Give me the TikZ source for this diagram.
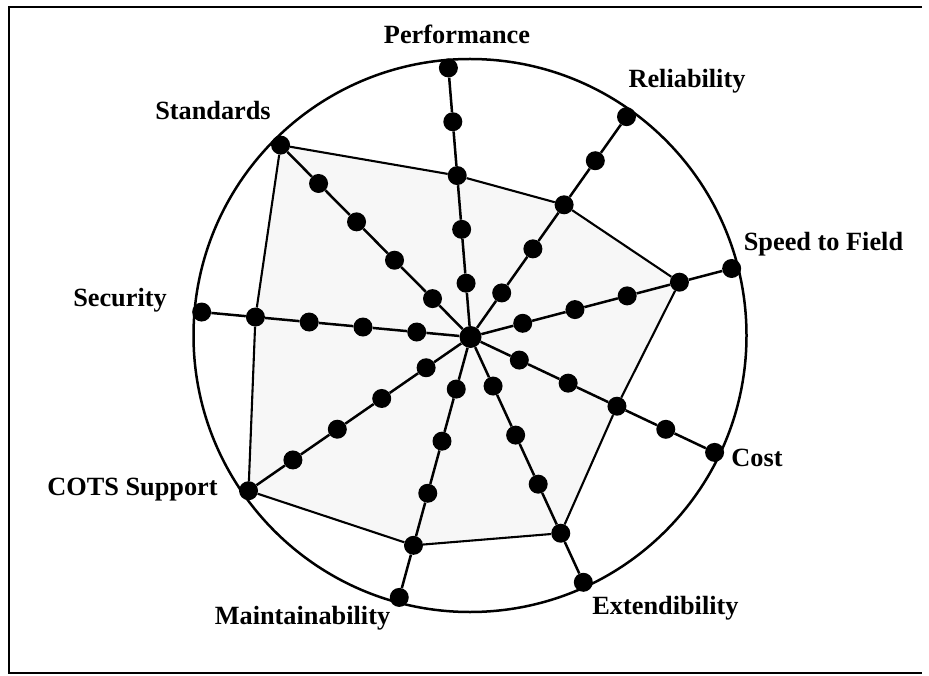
\documentclass[tikz,border=0pt]{standalone}
\usepackage{fontspec}
\setmainfont{Liberation Serif}
\pgfdeclarelayer{background}
\pgfsetlayers{background,main}
\begin{document}
\begin{tikzpicture}[x=1pt,y=1pt,
  dotnode/.style={circle,fill=black,inner sep=0pt,minimum size=19pt},
  hubnode/.style={circle,fill=black,inner sep=0pt,minimum size=22pt},
  spoke/.style={line width=2.5pt},
  polyedge/.style={line width=2.1pt,line join=round},
  polyfill/.style={fill=black!3},
  ring/.style={line width=2.5pt},
  frameline/.style={line width=2.6pt},
  lab/.style={font=\fontsize{26.3}{30}\selectfont\bfseries,inner sep=0pt,anchor=base}]
\useasboundingbox (0,0) rectangle (929,-676);
\draw[frameline] (922,-7) -- (9,-7) -- (9,-673) -- (922,-673);
\draw[ring] (470,-335.5) circle (276.5);
\begin{scope}[shift={(470.5,-337)}]
\node[hubnode] (O) at (0,0) {};
\foreach \n/\a in {per/94.7, rel/54.7, spd/14.7, cst/-25.3, ext/-65.3, mnt/-105.3, cot/-145.3, sec/-185.3, std/-225.3} {
  \foreach \k [evaluate=\k as \r using \k*54] in {1,...,5} {
    \node[dotnode] (\n\k) at (\a:\r) {};
  }
  \draw[spoke] (O) -- (\n1) -- (\n2) -- (\n3) -- (\n4) -- (\n5);
}
\end{scope}
\begin{pgfonlayer}{background}
\fill[polyfill] (std5.center) -- (per3.center) -- (rel3.center) -- (spd4.center) -- (cst3.center) -- (ext4.center) -- (mnt4.center) -- (cot5.center) -- (sec4.center) -- cycle;
\end{pgfonlayer}
\draw[polyedge] (std5) -- (per3) -- (rel3) -- (spd4) -- (cst3) -- (ext4) -- (mnt4) -- (cot5) -- (sec4) -- (std5);
\node[lab] (Lper) at (457,-44) {Performance};
\node[lab] (Lrel) at (687,-88) {Reliability};
\node[lab] (Lspd) at (823.5,-251) {Speed to Field};
\node[lab] (Lcst) at (757,-466) {Cost};
\node[lab] (Lext) at (665.5,-614) {Extendibility};
\node[lab] (Lmnt) at (302.5,-624) {Maintainability};
\node[lab] (Lcot) at (132.5,-495) {COTS Support};
\node[lab] (Lsec) at (120,-307) {Security};
\node[lab] (Lstd) at (213,-120) {Standards};
\end{tikzpicture}
\end{document}
